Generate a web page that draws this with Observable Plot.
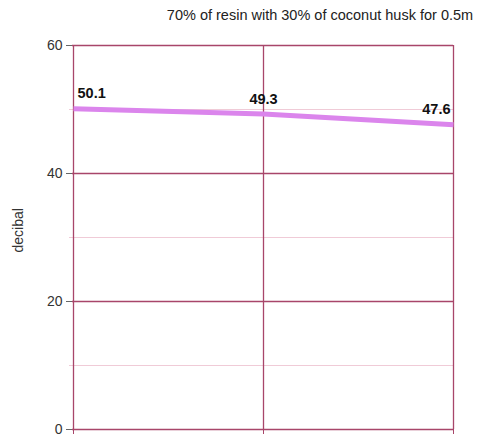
<!DOCTYPE html>
<html>
<head>
<meta charset="utf-8">
<script src="https://cdn.jsdelivr.net/npm/d3@7"></script>
<script src="https://cdn.jsdelivr.net/npm/@observablehq/plot@0.6"></script>
<style>
  html, body { margin: 0; padding: 0; background: #fff; }
  svg { font-family: "Liberation Sans", Arial, sans-serif; }
</style>
</head>
<body>
<div id="chart"></div>
<script>
const title = "70% of resin with 30% of coconut husk for 0.5m";
const categories = ["1", "2", "3"];
const values = [50.1, 49.3, 47.6];
const yTicks = [0, 20, 40, 60];
const yMinor = [10, 30, 50];
const yLabel = "decibal";

const data = categories.map((c, i) => ({cat: c, value: values[i], i}));
const major = "#a8466a";
const minor = "#f0cbd7";
const labelStyle = {x: "cat", y: "value", text: d => d.value.toFixed(1), fontWeight: "bold", fontSize: 14.5, fill: "#111", lineAnchor: "middle"};

const chart = Plot.plot({
  width: 481,
  height: 439,
  marginLeft: 72,
  marginRight: 28,
  marginTop: 45,
  marginBottom: 10,
  style: {fontFamily: "Liberation Sans, Arial, sans-serif", fontSize: "14px", color: "#333"},
  x: {type: "point", domain: categories, padding: 0},
  y: {domain: [0, 60]},
  marks: [
    Plot.ruleY(yMinor, {stroke: minor, strokeWidth: 1, insetLeft: -3}),
    Plot.ruleY(yTicks, {stroke: major, strokeWidth: 1.3}),
    Plot.ruleX(categories, {stroke: major, strokeWidth: 1.3}),
    Plot.axisY({ticks: yTicks, tickSize: 6, tickPadding: 4, stroke: "#666", label: null, fontSize: 14}),
    Plot.axisX({tickSize: 5, tickFormat: () => "", stroke: major, label: null}),
    Plot.text([yLabel], {frameAnchor: "left", dx: -54, dy: 15, rotate: -90, fontSize: 14, fill: "#333"}),
    Plot.line(data, {x: "cat", y: "value", stroke: "#db85ec", strokeWidth: 5, strokeLinecap: "butt"}),
    Plot.text(data.filter(d => d.i === 0), {...labelStyle, textAnchor: "start", dx: 4, dy: -16}),
    Plot.text(data.filter(d => d.i === 1), {...labelStyle, textAnchor: "middle", dy: -15}),
    Plot.text(data.filter(d => d.i === 2), {...labelStyle, textAnchor: "end", dx: -3, dy: -16}),
    Plot.text([title], {frameAnchor: "top", dx: 57, dy: -30, fontSize: 14.5, fill: "#222", lineAnchor: "middle"})
  ]
});
document.getElementById("chart").appendChild(chart);
</script>
</body>
</html>
